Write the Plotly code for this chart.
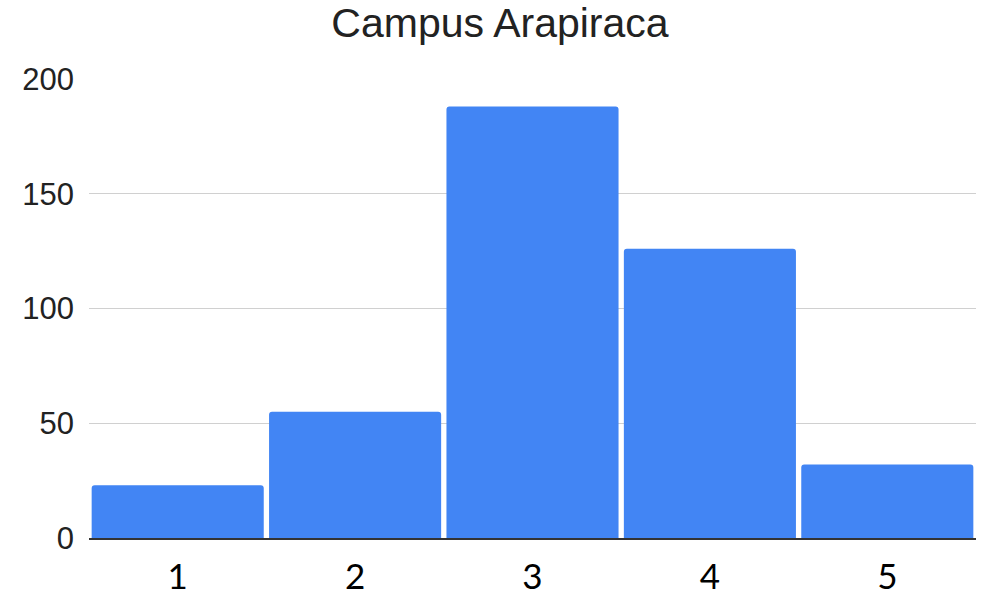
import plotly.graph_objects as go

categories = ["1", "2", "3", "4", "5"]
values = [23, 55, 188, 126, 32]
y_ticks = [0, 50, 100, 150, 200]
title_text = "Campus Arapiraca"

fig = go.Figure(
    go.Bar(
        x=categories,
        y=values,
        marker=dict(color="#4285F4", line=dict(width=0)),
        hoverinfo="x+y",
    )
)

fig.update_layout(
    width=987,
    height=595,
    margin=dict(l=89, r=11, t=79, b=57, autoexpand=False),
    paper_bgcolor="white",
    plot_bgcolor="white",
    bargap=0.03,
    barcornerradius=3,
    showlegend=False,
    title=dict(
        text=title_text,
        x=0.5066,
        xanchor="center",
        y=0.962,
        yanchor="middle",
        font=dict(family="Liberation Sans, Arial, sans-serif", size=41, color="#222222"),
    ),
)

fig.update_yaxes(
    range=[0, 200],
    tickvals=y_ticks,
    ticktext=[str(v) for v in y_ticks],
    automargin=False,
    showgrid=True,
    gridcolor="#d0d0d0",
    gridwidth=1,
    zeroline=False,
    showline=False,
    ticks="",
    ticklabelstandoff=14,
    tickfont=dict(family="Liberation Sans, Arial, sans-serif", size=31, color="#222222"),
)

fig.update_xaxes(
    type="category",
    automargin=False,
    showgrid=False,
    zeroline=False,
    showline=True,
    linecolor="#333333",
    linewidth=1.5,
    ticks="",
    ticklabelstandoff=7,
    tickfont=dict(family="Lato, Noto Sans, sans-serif", size=35, color="#000000"),
)

fig.write_html(
    "out.html",
    config={"displayModeBar": False},
    post_script="document.body.style.margin='0';document.body.style.overflow='hidden';",
)
